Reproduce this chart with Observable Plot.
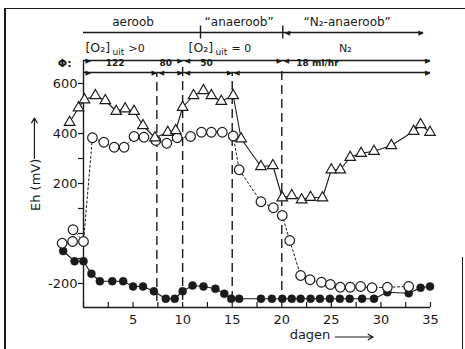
<!DOCTYPE html>
<html>
<head>
<meta charset="utf-8">
<script src="https://cdn.jsdelivr.net/npm/d3@7"></script>
<script src="https://cdn.jsdelivr.net/npm/@observablehq/plot@0.6"></script>
<style>
  html, body { margin: 0; padding: 0; background: #fff; }
  #chart { position: relative; width: 465px; height: 349px; overflow: hidden; background: #fff; }
  #chart svg { display: block; }
  .edge { position: absolute; background: #1a1a1a; }
</style>
</head>
<body>
<div id="chart">
  <div class="edge" style="left:4px;top:8px;width:1.6px;height:341px"></div>
  <div class="edge" style="left:4px;top:8px;width:461px;height:1.4px"></div>
  <div class="edge" style="left:462px;top:257px;width:1.4px;height:92px"></div>
</div>
<script>
// Eh (mV) per day — open triangles, solid line
const triDays = [-1.4, -0.5, 0.1, 1.2, 2.2, 3.3, 4.2, 5.1, 6.0, 7.2, 8.5, 9.3, 10.0, 11.1, 12.1, 12.9, 13.9, 15.1,
  15.9, 17.9, 19.1, 20.05, 21.0, 22.0, 22.9, 24.1, 25.0, 25.9, 26.9, 28.0, 29.3, 31.05, 33.3, 34.0, 34.95];
const triEh = [445, 503, 535, 552, 532, 489, 499, 489, 432, 383, 405, 412, 505, 552, 572, 552, 529, 552,
  379, 268, 272, 143, 152, 135, 145, 143, 255, 255, 305, 321, 329, 352, 409, 436, 405];

// Eh (mV) per day — open circles, dotted line
const openDays = [-2.15, -1.1, -1.05, 0.0, 0.9, 2.05, 3.1, 4.1, 5.1, 6.1, 7.3, 8.4, 9.45, 10.8, 11.9, 12.9, 14.0, 15.1,
  15.7, 17.9, 19.15, 20.05, 20.8, 21.9, 22.85, 24.0, 24.9, 25.9, 26.9, 27.95, 29.1, 30.65, 32.8];
const openEh = [-39, -32, 15, -32, 383, 365, 345, 345, 388, 385, 372, 361, 383, 388, 405, 405, 405, 390,
  255, 127, 103, 72, -28, -168, -185, -195, -204, -215, -215, -212, -217, -215, -212];

// Eh (mV) per day — filled circles, solid line
const fillDays = [-2.05, -0.9, 0.0, 0.8, 1.65, 2.9, 4.0, 5.0, 6.0, 7.1, 8.3, 9.2, 10.0, 11.0, 12.1, 13.3, 14.2, 14.9,
  15.7, 17.9, 19.0, 20.05, 21.0, 21.9, 22.9, 23.85, 24.85, 25.85, 26.85, 28.1, 29.3, 30.65, 32.8, 34.0, 34.95];
const fillEh = [-70, -111, -111, -161, -191, -191, -191, -212, -212, -231, -261, -261, -231, -208, -212, -221, -241, -261,
  -261, -261, -261, -261, -261, -261, -261, -261, -261, -261, -261, -261, -261, -235, -239, -217, -212];

// Period boundaries (days) drawn as dashed verticals, with their extent in mV
const breakDays = [7.4, 10, 15, 20];
const breakTop = [640, 680, 640, 660];
const breakBottom = [-272, -268, -268, -228];

// Header row 1: phases
const phaseFrom = [0, 11.8, 20.1];
const phaseTo = [11.8, 20.1, 34.3];
const phaseLabels = ["aeroob", "\u201canaeroob\u201d", "\u201cN\u2082-anaeroob\u201d"];
const phaseLabelAt = [5.0, 15.7, 26.6];

// Header row 2: outlet oxygen / nitrogen purge
const o2From = [0, 10, 20];
const o2To = [10, 20, 35];
const o2LabelAt = [0.2, 10.6];
const o2Relation = [">0", "= 0"];
const n2Label = "N\u2082";
const n2LabelAt = 26.4;

// Header row 3: flow rate Φ
const flowFrom = [0, 7.4, 10, 15];
const flowTo = [7.4, 10, 15, 35];
const flowLabels = ["122", "80", "50", "18 ml/hr"];
const flowLabelAt = [3.2, 8.3, 12.4, 23.6];

// Axis ticks
const xTicks = d3.range(0, 35.01, 2.5);
const xTickLabels = [5, 10, 15, 20, 25, 30, 35];
const yTicks = d3.range(-200, 601, 100);
const yTickLabels = [600, 400, 200, -200];

const toRows = (xs, ys) => xs.map((d, i) => ({day: d, eh: ys[i]}));
const triangles = toRows(triDays, triEh);
const openCircles = toRows(openDays, openEh);
const filledCircles = toRows(fillDays, fillEh);
const breaks = breakDays.map((d, i) => ({day: d, top: breakTop[i], bottom: breakBottom[i]}));
const spans = (from, to) => from.map((f, i) => ({from: f, to: to[i]}));
const phaseSpans = spans(phaseFrom, phaseTo);
const o2Spans = spans(o2From, o2To);
const flowSpans = spans(flowFrom, flowTo);

// vertical levels of the header rows, in y-scale units
const Y0 = -296, Y1 = 900;
const ROW1_TEXT = 846, ROW1_LINE = 804;
const ROW2_TEXT = 742, ROW2_LINE = 692;
const ROW3_TEXT = 682, ROW3_LINE = 644;

const ink = "#1a1a1a";
const font = "DejaVu Sans";

const headerArrows = (rows, y) => [
  Plot.ruleY(rows, {x1: "from", x2: "to", y: y, stroke: ink, strokeWidth: 1.4}),
  Plot.text(rows, {x: "to", y: y, text: () => "\u25B6", textAnchor: "end", fontSize: 7, fill: ink}),
  Plot.text(rows, {x: "from", y: y, text: d => d.from === 0 ? "\u25B6" : "\u25C0",
    textAnchor: "start", dx: 2, fontSize: 7, fill: ink})
];

// axis-title arrows (anchors in scale units)
const axisArrows = [
  {x1: -4.95, x2: -4.95, y1: 300, y2: 462},
  {x1: 25.4, x2: 29.2, y1: -414, y2: -414}
];

const chart = Plot.plot({
  width: 465,
  height: 349,
  marginLeft: 83,
  marginRight: 35,
  marginTop: 8,
  marginBottom: 42,
  x: {domain: [0, 35]},
  y: {domain: [Y0, Y1]},
  style: {fontFamily: font, fontSize: "13px", color: ink, background: "transparent"},
  marks: [
    // axes
    Plot.ruleX([0], {y1: Y0, y2: ROW2_LINE, stroke: ink, strokeWidth: 1.4}),
    Plot.ruleY([Y0], {x1: 0, x2: 35, stroke: ink, strokeWidth: 1.4}),
    Plot.ruleX(xTicks, {y1: Y0, y2: Y0 + 20, stroke: ink, strokeWidth: 1.2}),
    Plot.axisX(xTickLabels, {tickSize: 0, tickPadding: 7, tickFormat: d => String(d), fontSize: 13, label: null}),
    Plot.axisY(yTicks, {tickSize: 5, tickPadding: 1, strokeWidth: 1.2, label: null,
      tickFormat: d => yTickLabels.includes(d) ? String(d) : "", fontSize: 13}),

    // axis titles
    Plot.text(["Eh (mV)"], {frameAnchor: "left", dx: -48, dy: 53, rotate: -90, fontSize: 13, fill: ink}),
    Plot.arrow(axisArrows, {x1: "x1", y1: "y1", x2: "x2", y2: "y2", stroke: ink, strokeWidth: 1.2, headLength: 7}),
    Plot.text(["dagen"], {frameAnchor: "bottom", dx: 53, dy: 31, fontSize: 13, fill: ink}),

    // dashed period boundaries
    Plot.ruleX(breaks, {x: "day", y1: "bottom", y2: "top", stroke: ink, strokeWidth: 1.4, strokeDasharray: "9,5"}),

    // header row 1
    ...headerArrows(phaseSpans.slice(2), ROW1_LINE),
    Plot.ruleY(phaseSpans.slice(0, 2), {x1: "from", x2: "to", y: ROW1_LINE, stroke: ink, strokeWidth: 1.4}),
    Plot.ruleX(phaseFrom.slice(1), {y1: ROW1_LINE - 26, y2: ROW1_LINE + 26, stroke: ink, strokeWidth: 1.4}),
    Plot.text(phaseLabels, {x: (d, i) => phaseLabelAt[i], y: ROW1_TEXT, text: d => d, fontSize: 12, fill: ink}),

    // header row 2
    ...headerArrows(o2Spans, ROW2_LINE),
    Plot.text(o2LabelAt, {x: d => d, y: ROW2_TEXT, text: () => "[O\u2082]", textAnchor: "start", fontSize: 12.5, fill: ink}),
    Plot.text(o2LabelAt, {x: d => d, y: ROW2_TEXT, text: () => "uit", textAnchor: "start", dx: 27, dy: 4, fontSize: 9, fill: ink}),
    Plot.text(o2Relation, {x: (d, i) => o2LabelAt[i], y: ROW2_TEXT, text: d => d, textAnchor: "start", dx: 43, fontSize: 11, fill: ink}),
    Plot.text([n2Label], {x: () => n2LabelAt, y: ROW2_TEXT, text: d => d, fontSize: 11, fill: ink}),

    // header row 3
    ...headerArrows(flowSpans, ROW3_LINE),
    Plot.text(["\u03A6:"], {x: () => -1.9, y: ROW3_TEXT, text: d => d, fontSize: 11, fontWeight: "bold", fill: ink}),
    Plot.text(flowLabels, {x: (d, i) => flowLabelAt[i], y: ROW3_TEXT, text: d => d, fontSize: 9, fontWeight: "bold", fill: ink}),

    // series lines
    Plot.line(filledCircles, {x: "day", y: "eh", stroke: ink, strokeWidth: 1.1}),
    Plot.line(openCircles, {x: "day", y: "eh", stroke: ink, strokeWidth: 1, strokeDasharray: "2,2.5"}),
    Plot.line(triangles, {x: "day", y: "eh", stroke: ink, strokeWidth: 1.1}),

    // series markers
    Plot.dot(filledCircles, {x: "day", y: "eh", r: 4, fill: ink, stroke: ink, strokeWidth: 0.5}),
    Plot.dot(openCircles, {x: "day", y: "eh", r: 4.8, fill: "white", stroke: ink, strokeWidth: 1.2}),
    Plot.dot(triangles, {x: "day", y: "eh", symbol: "triangle", r: 3.9, fill: "white", stroke: ink, strokeWidth: 1.2})
  ]
});

document.getElementById("chart").appendChild(chart);
</script>
</body>
</html>
